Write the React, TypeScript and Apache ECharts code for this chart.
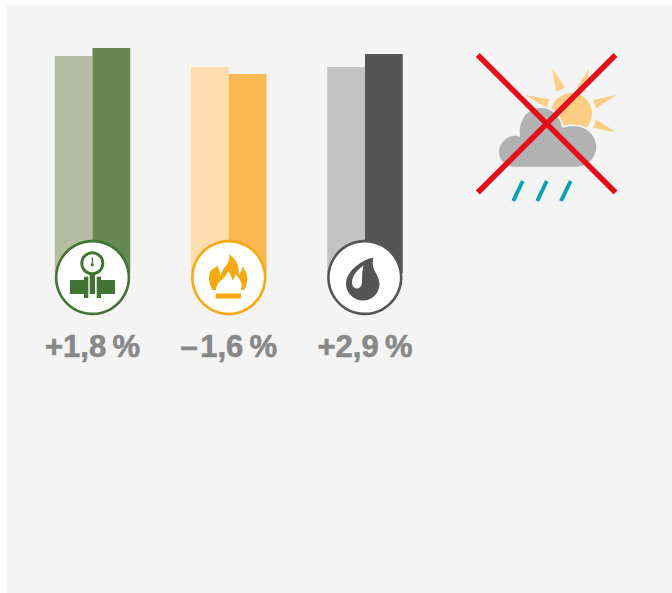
import React, { useEffect, useRef } from "react";
import * as echarts from "echarts";

const categories = ["+1,8\u2009%", "\u2013\u200A1,6\u2009%", "+2,9\u2009%"];
const previousValues = [217, 206, 206];
const currentValues = [225, 199, 219];
const previousColors = ["#b5bea3", "#fddcae", "#c2c2c2"];
const currentColors = ["#678853", "#fab852", "#555555"];
const ringColors = ["#417333", "#f8a90f", "#555555"];
const ringCenters = [92.5, 228.7, 364.8];
const PANEL = "#f4f4f4";

const flameD =
  "M212.5,290 C208.5,283 208,276 210.5,271 C212,269 215,268 217.3,265.5 C219,269 220,272 220.5,276 C222,267 231,264 229.3,254 C236,259 240,266 238.5,275 C240.5,273 242,270 242.7,266.5 C247,272 250,281 244,290 L241,290 C243,284 240,279 235.5,274 C235,277 234,279 232,280.5 C232,277 230,274 228,270.5 C227.5,276 222,279 218.5,283 C217,285 216,287.5 216,290 Z";
const dropD =
  "M373.5,257.5 C364,259 346,270 346,284 C346,293 354,300.5 363,300.5 C372,300.5 379.5,293 379.5,284 C379.5,274 370,270 373.5,257.5 Z";
const dropHoleD =
  "M363.5,265.5 C358,269 352,276 352,282 C352,286 354,288.5 357,288.5 C360,288.5 362,285 362,282 C362,277 362,272 363.5,265.5 Z";
const cloudD =
  "M515,166.7 C505,166.7 499,160 499,152 C499,143 507,135.7 515,135.7 C517,135.7 518,136.2 520,136.7 C518,120 528,108 541,108 C552,108 560,116 562.3,128 C565,126.5 570,126.2 574,126.2 C587,126.2 596.3,136 596.3,147 C596.3,158 587,166.7 576,166.7 Z";

echarts.graphic.registerShape("flameIcon", echarts.graphic.extendPath(flameD, {}));
echarts.graphic.registerShape("dropIcon", echarts.graphic.extendPath(dropD, {}));
echarts.graphic.registerShape("dropHoleIcon", echarts.graphic.extendPath(dropHoleD, {}));
echarts.graphic.registerShape("cloudIcon", echarts.graphic.extendPath(cloudD, {}));

const rect = (x: number, y: number, width: number, height: number, fill: string, z = 20) => ({
  type: "rect", silent: true, z, shape: { x, y, width, height }, style: { fill },
});
const poly = (points: number[][], fill: string) => ({
  type: "polygon", silent: true, z: 20, shape: { points }, style: { fill },
});
const stroke = (x1: number, y1: number, x2: number, y2: number, color: string, lineWidth: number, z = 20) => ({
  type: "line", silent: true, z, shape: { x1, y1, x2, y2 }, style: { stroke: color, lineWidth },
});

const GREEN = ringColors[0];

const graphicElements: any[] = [
  rect(7, 5, 665, 588, PANEL, -1),
  ...ringCenters.map((cx, i) => ({
    type: "circle", silent: true, z: 15,
    shape: { cx, cy: 277.5, r: 36.4 },
    style: { fill: "#ffffff", stroke: ringColors[i], lineWidth: 2.6 },
  })),
  // pipe and gauge
  { type: "circle", silent: true, z: 20, shape: { cx: 92.3, cy: 263.3, r: 10.5 }, style: { fill: "#ffffff", stroke: GREEN, lineWidth: 3 } },
  rect(91.7, 257.5, 1.3, 8, GREEN),
  { type: "circle", silent: true, z: 20, shape: { cx: 92.3, cy: 264.8, r: 1.6 }, style: { fill: GREEN } },
  rect(70, 280, 14.5, 14, GREEN),
  rect(84, 276.7, 4.3, 21.3, GREEN),
  rect(89.7, 272.5, 5.3, 21.5, GREEN),
  rect(96.7, 276.7, 4.3, 21.3, GREEN),
  rect(100.5, 280, 14.5, 14, GREEN),
  // flame
  { type: "flameIcon", silent: true, z: 20, x: 0, y: 0, style: { fill: ringColors[1] } },
  rect(215.7, 293.5, 25.3, 5, ringColors[1]),
  // drop
  { type: "dropIcon", silent: true, z: 20, x: 0, y: 0, style: { fill: ringColors[2] } },
  { type: "dropHoleIcon", silent: true, z: 21, x: 0, y: 0, style: { fill: "#ffffff" } },
  // weather
  { type: "circle", silent: true, z: 20, shape: { cx: 571.5, cy: 113.5, r: 20.5 }, style: { fill: "#fdcd84" } },
  poly([[552.3, 68.3], [556, 91.7], [565, 87.7]], "#fdcd84"),
  poly([[589.3, 68.3], [576.7, 88.3], [585, 91.7]], "#fdcd84"),
  poly([[616.7, 95], [593.3, 100], [596, 108.3]], "#fdcd84"),
  poly([[616.7, 132.7], [596, 119.3], [593.3, 127.7]], "#fdcd84"),
  poly([[525, 95], [549.3, 99.3], [546.7, 107.7]], "#fdcd84"),
  { type: "cloudIcon", silent: true, z: 21, x: 0, y: 0, style: { fill: PANEL, stroke: PANEL, lineWidth: 3.5 } },
  { type: "cloudIcon", silent: true, z: 22, x: 0, y: 0, style: { fill: "#b2b2b2" } },
  stroke(522.7, 181, 513.3, 201, "#0e9fb5", 4),
  stroke(546.7, 181, 537.3, 201, "#0e9fb5", 4),
  stroke(570.7, 181, 561, 201, "#0e9fb5", 4),
  stroke(477.8, 55, 615.5, 192.5, "#e30f1b", 5.5, 25),
  stroke(615.5, 55, 477.8, 192.5, "#e30f1b", 5.5, 25),
];

export default function App() {
  const ref = useRef<HTMLDivElement>(null);
  useEffect(() => {
    document.body.style.margin = "0";
    const chart = echarts.init(ref.current!, undefined, { renderer: "svg" });
    chart.setOption({
      animation: false,
      backgroundColor: "#ffffff",
      grid: { left: 24.375, top: 48, width: 408.75, height: 225 },
      xAxis: {
        type: "category",
        data: categories,
        axisLine: { show: false },
        axisTick: { show: false },
        z: 30,
        axisLabel: {
          margin: 58,
          fontFamily: "Liberation Sans",
          fontWeight: "bold",
          fontSize: 31,
          color: "#888888",
          textBorderColor: "#888888",
          textBorderWidth: 0.6,
          interval: 0,
        },
      },
      yAxis: { type: "value", min: 0, max: 225, show: false, splitLine: { show: false } },
      graphic: { elements: graphicElements },
      series: [
        {
          type: "bar",
          barWidth: 37.75,
          barGap: 0,
          z: 2,
          data: previousValues.map((value, i) => ({ value, itemStyle: { color: previousColors[i] } })),
        },
        {
          type: "bar",
          barWidth: 37.75,
          barGap: 0,
          z: 2,
          data: currentValues.map((value, i) => ({ value, itemStyle: { color: currentColors[i] } })),
        },
      ],
    });
    return () => chart.dispose();
  }, []);
  return <div ref={ref} style={{ position: "absolute", left: 0, top: 0, width: 672, height: 593 }} />;
}
